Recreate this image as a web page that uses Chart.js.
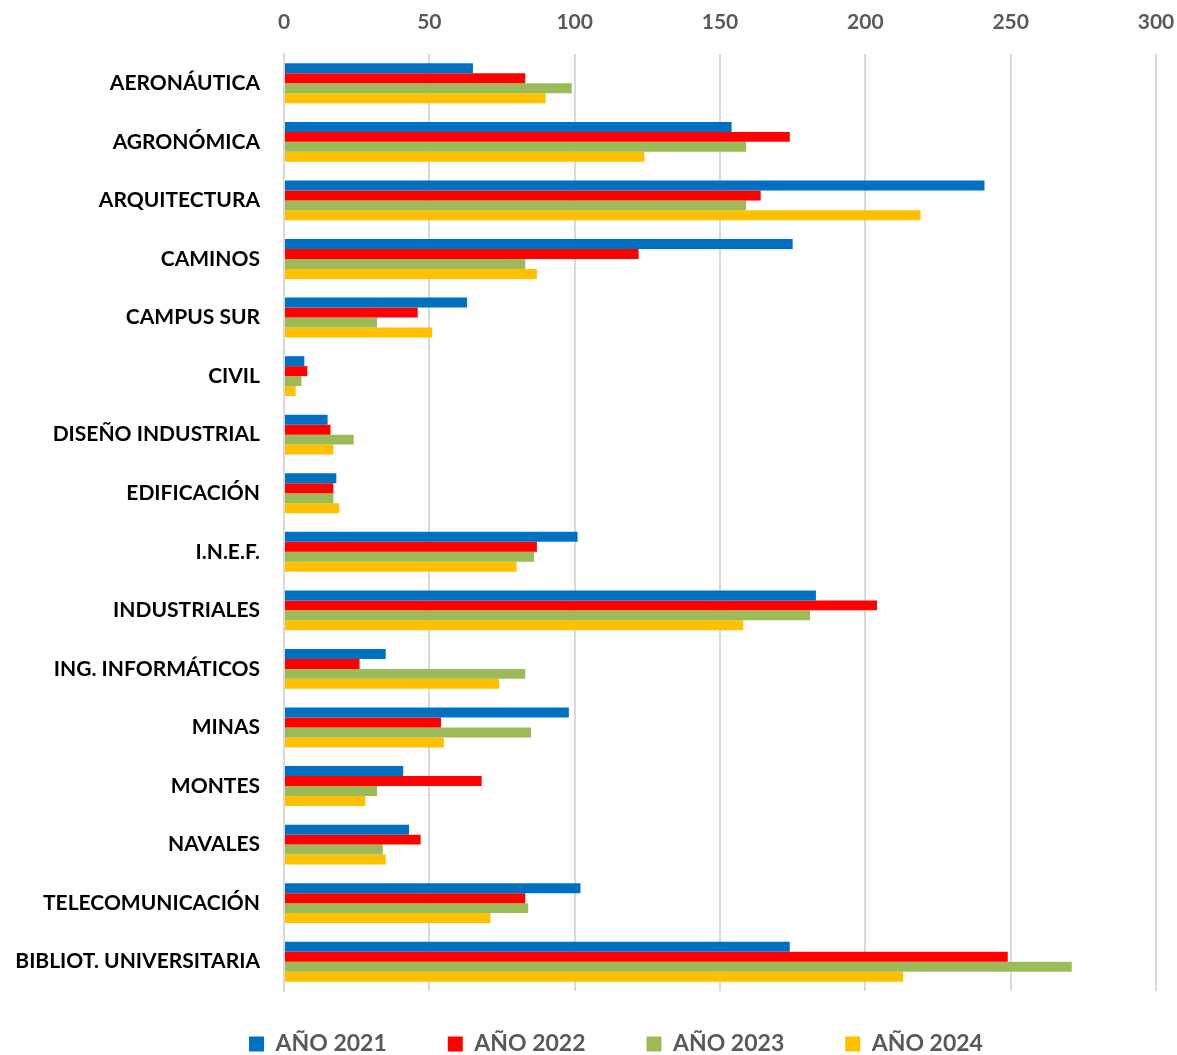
<!DOCTYPE html>
<html>
<head>
<meta charset="utf-8">
<script src="https://cdn.jsdelivr.net/npm/chart.js@4.4.1/dist/chart.umd.min.js"></script>
<style>
  html, body { margin: 0; padding: 0; background: #ffffff; }
  #wrap { width: 1177px; height: 1055px; }
</style>
</head>
<body>
<div id="wrap"><canvas id="c" width="1177" height="1055"></canvas></div>
<script>
const categories = [
  "AERONÁUTICA", "AGRONÓMICA", "ARQUITECTURA", "CAMINOS", "CAMPUS SUR", "CIVIL",
  "DISEÑO INDUSTRIAL", "EDIFICACIÓN", "I.N.E.F.", "INDUSTRIALES", "ING. INFORMÁTICOS",
  "MINAS", "MONTES", "NAVALES", "TELECOMUNICACIÓN", "BIBLIOT. UNIVERSITARIA"
];
const seriesNames = ["AÑO 2021", "AÑO 2022", "AÑO 2023", "AÑO 2024"];
const values2021 = [65, 154, 241, 175, 63, 7, 15, 18, 101, 183, 35, 98, 41, 43, 102, 174];
const values2022 = [83, 174, 164, 122, 46, 8, 16, 17, 87, 204, 26, 54, 68, 47, 83, 249];
const values2023 = [99, 159, 159, 83, 32, 6, 24, 17, 86, 181, 83, 85, 32, 34, 84, 271];
const values2024 = [90, 124, 219, 87, 51, 4, 17, 19, 80, 158, 74, 55, 28, 35, 71, 213];
const xTicks = [0, 50, 100, 150, 200, 250, 300];

const colors = ["#0070C0", "#FF0000", "#9BBB59", "#FFC000"];
const allValues = [values2021, values2022, values2023, values2024];

const legendShift = {
  id: 'legendShift',
  afterLayout(chart) {
    const lg = chart.legend;
    if (lg) {
      lg.top -= 19.5;
      lg.bottom = chart.height;
      lg.left += 38; lg.right += 38;
    }
  }
};

new Chart(document.getElementById('c'), {
  type: 'bar',
  data: {
    labels: categories,
    datasets: seriesNames.map((name, i) => ({
      label: name,
      data: allValues[i],
      backgroundColor: colors[i],
      borderWidth: 0,
      categoryPercentage: 0.68,
      barPercentage: 1.0
    }))
  },
  options: {
    indexAxis: 'y',
    responsive: false,
    animation: false,
    layout: { padding: { left: 0, right: 21, top: 0, bottom: 0 } },
    plugins: {
      tooltip: { enabled: false },
      legend: {
        position: 'bottom',
        maxHeight: 64,
        labels: {
          boxWidth: 15,
          boxHeight: 15,
          padding: 61,
          color: '#595959',
          font: { family: 'Lato', weight: 'bold', size: 23 }
        }
      }
    },
    scales: {
      x: {
        position: 'top',
        min: 0,
        max: 300,
        afterBuildTicks(scale) { scale.ticks = xTicks.map(v => ({ value: v })); },
        afterFit(scale) { scale.height = 54; scale.paddingLeft = 0; scale.paddingRight = 0; },
        grid: { color: '#d9d9d9', lineWidth: 2, drawTicks: false },
        border: { display: false },
        ticks: {
          padding: 19,
          color: '#595959',
          font: { family: 'Lato', weight: 'bold', size: 21 }
        }
      },
      y: {
        afterFit(scale) { scale.width = 284; scale.paddingTop = 0; scale.paddingBottom = 0; },
        grid: { display: false, drawTicks: false },
        border: { display: true, color: '#d9d9d9', width: 2 },
        ticks: {
          padding: 24,
          color: '#000000',
          font: { family: 'Lato', weight: 'bold', size: 21 }
        }
      }
    }
  },
  plugins: [legendShift]
});
</script>
</body>
</html>
